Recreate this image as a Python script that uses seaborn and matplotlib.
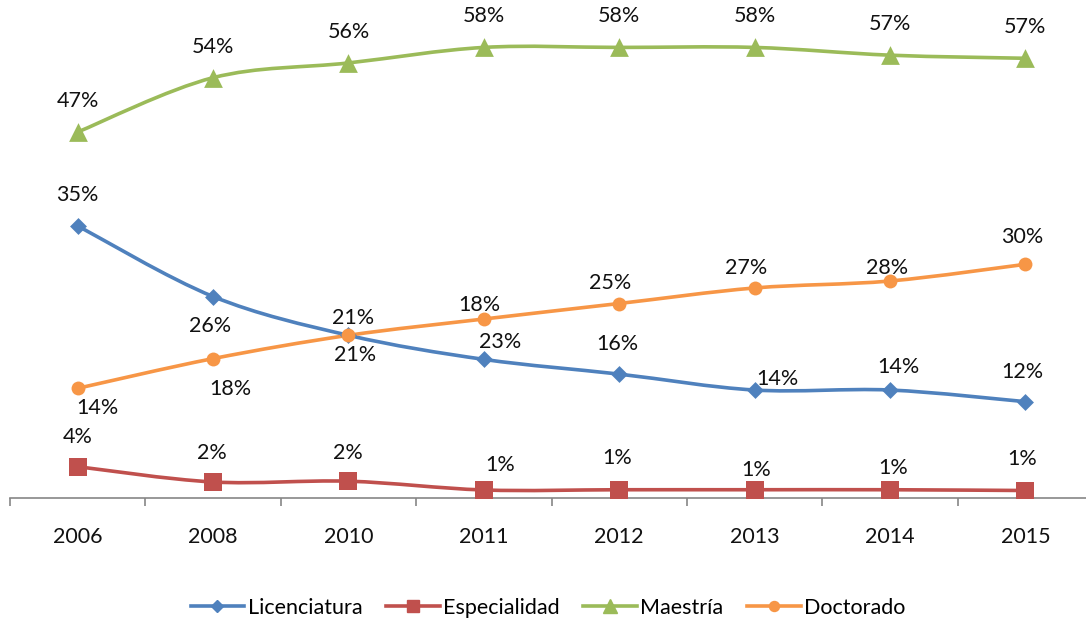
import matplotlib
matplotlib.use('Agg')
import matplotlib.pyplot as plt
from matplotlib.path import Path
from matplotlib.patches import PathPatch
from matplotlib.lines import Line2D
import seaborn as sns
import pandas as pd

years = ["2006", "2008", "2010", "2011", "2012", "2013", "2014", "2015"]
licenciatura = [35.0, 25.9, 20.9, 17.8, 15.9, 13.85, 13.85, 12.35]
especialidad = [3.97, 2.0, 2.1, 0.97, 1.0, 1.0, 1.0, 0.9]
maestria = [47.1, 54.1, 56.0, 58.0, 58.0, 58.0, 57.0, 56.6]
doctorado = [14.07, 17.9, 20.9, 23.0, 25.0, 27.0, 27.9, 30.05]

lic_labels = ["35%", "26%", "21%", "23%", "16%", "14%", "14%", "12%"]
esp_labels = ["4%", "2%", "2%", "1%", "1%", "1%", "1%", "1%"]
mae_labels = ["47%", "54%", "56%", "58%", "58%", "58%", "57%", "57%"]
doc_labels = ["14%", "18%", "21%", "18%", "25%", "27%", "28%", "30%"]

# label offsets in pixels (dx, dy up)
lic_off = [(0, 31), (-3, -29), (7, -20), (16, 17), (-2, 30), (23, 11), (8, 23), (-3, 30)]
esp_off = [(0, 30), (-1, 29), (-1, 28), (16, 25), (-2, 32), (2, 20), (3, 22), (-3, 32)]
mae_off = [(0, 31)] * 8
doc_off = [(20, -20), (17, -30), (5, 17), (-4, 14), (-9, 21), (-8, 20), (-3, 13), (-3, 27)]

plt.rcParams['font.family'] = ['Lato', 'DejaVu Sans']
FS = 15.5

fig = plt.figure(figsize=(10.86, 6.26), dpi=100)
ax = fig.add_axes([10 / 1086, 128.5 / 626, 1083 / 1086, 60 * 7.76 / 626])


def smooth_path(xs, ys):
    pts = list(zip(xs, ys))
    verts = [pts[0]]
    codes = [Path.MOVETO]
    n = len(pts)
    for i in range(n - 1):
        p0 = pts[i - 1] if i > 0 else pts[i]
        p1 = pts[i]
        p2 = pts[i + 1]
        p3 = pts[i + 2] if i + 2 < n else pts[i + 1]
        c1 = (p1[0] + (p2[0] - p0[0]) / 6, p1[1] + (p2[1] - p0[1]) / 6)
        c2 = (p2[0] - (p3[0] - p1[0]) / 6, p2[1] - (p3[1] - p1[1]) / 6)
        verts += [c1, c2, p2]
        codes += [Path.CURVE4] * 3
    return Path(verts, codes)


series = [
    ("Licenciatura", licenciatura, lic_labels, lic_off, "#4F81BD", "D", 8.6),
    ("Especialidad", especialidad, esp_labels, esp_off, "#C0504D", "s", 12.5),
    ("Maestría", maestria, mae_labels, mae_off, "#9BBB59", "^", 13.5),
    ("Doctorado", doctorado, doc_labels, doc_off, "#F79646", "o", 10),
]

xs = list(range(len(years)))
handles = []
for name, vals, labels, offs, color, mk, ms in series:
    ax.add_patch(PathPatch(smooth_path(xs, vals), facecolor="none", edgecolor=color,
                           lw=2.6, capstyle="round", joinstyle="round", zorder=2))
    df = pd.DataFrame({"x": xs, "y": vals})
    sns.scatterplot(data=df, x="x", y="y", marker=mk, s=ms ** 2, color=color,
                    linewidth=0, ax=ax, zorder=3)
    for x, v, lab, (dx, dy) in zip(xs, vals, labels, offs):
        ax.annotate(lab, (x, v), xytext=(dx, dy), textcoords="offset pixels",
                    ha="center", va="center", fontsize=FS, color="#111111",
                    annotation_clip=False, zorder=4)
    handles.append(Line2D([], [], color=color, lw=2.6, marker=mk,
                          markersize=ms * 0.72, label=name))

ax.set_xlim(-0.5, 7.5)
ax.set_ylim(0, 60)
ax.set_xticks(xs)
ax.set_xticklabels(years, fontsize=FS, color="#111111")
ax.set_xticks([i - 0.5 for i in range(len(years) + 1)], minor=True)
ax.tick_params(axis="x", which="major", length=0, pad=21)
ax.tick_params(axis="x", which="minor", length=6, width=1.2, color="#868686")
ax.set_yticks([])
ax.set_xlabel("")
ax.set_ylabel("")
for side in ["top", "right", "left"]:
    ax.spines[side].set_visible(False)
ax.spines["bottom"].set_color("#868686")
ax.spines["bottom"].set_linewidth(1.2)
ax.patch.set_alpha(0)

fig.legend(handles=handles, loc="center", bbox_to_anchor=(548 / 1086, 1 - 608 / 626),
           ncol=4, frameon=False, fontsize=FS, handlelength=2.5, handletextpad=0.15,
           columnspacing=1.1)

fig.savefig("out.png", dpi=100)
